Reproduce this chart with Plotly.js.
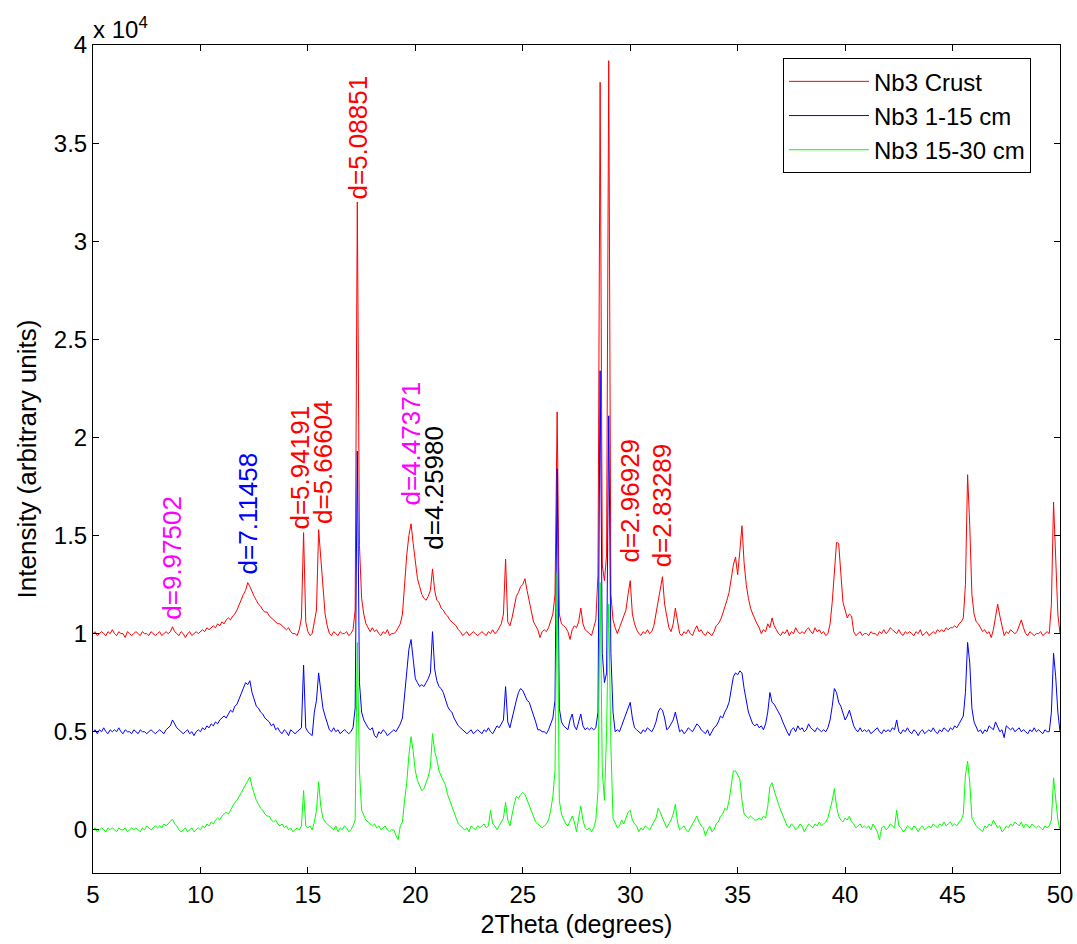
<!DOCTYPE html>
<html>
<head>
<meta charset="utf-8">
<script src="https://cdn.plot.ly/plotly-3.0.1.min.js"></script>
<style>html,body{margin:0;padding:0;background:#fff;}#chart{width:1077px;height:944px;}</style>
</head>
<body>
<div id="chart"></div>
<script>
// 2Theta scan: starts at 5 degrees, 0.1 degree steps; intensities in units of 10^4
const scanStart = 5;
const scanStep = 0.1;
const seriesNames = ['Nb3 Crust', 'Nb3 1-15 cm', 'Nb3 15-30 cm'];
const seriesColors = ['#ff0000', '#0000ff', '#00ff00'];

const crust = [
1.00,1.01,0.99,1.00,1.01,1.00,0.99,1.01,1.00,1.02,
1.00,0.99,1.01,1.00,1.00,0.98,1.01,1.00,0.99,1.00,
1.01,1.00,0.99,1.01,1.00,1.00,0.99,1.01,1.00,0.99,
1.00,1.01,0.99,1.00,1.01,1.00,1.01,1.035,1.01,1.00,
0.99,1.01,1.00,0.98,1.00,1.01,0.99,1.00,1.01,1.00,
1.01,1.02,1.01,1.03,1.02,1.03,1.04,1.03,1.05,1.04,
1.06,1.05,1.07,1.08,1.07,1.09,1.10,1.12,1.15,1.17,
1.20,1.22,1.26,1.24,1.21,1.19,1.17,1.15,1.14,1.12,
1.11,1.11,1.09,1.08,1.07,1.06,1.05,1.05,1.04,1.03,
1.02,1.03,1.01,1.00,1.00,0.99,1.02,1.08,1.515,1.06,
1.01,0.99,1.00,1.06,1.12,1.53,1.38,1.22,1.10,1.04,
1.00,0.99,1.01,1.00,0.99,1.01,1.00,1.00,1.01,0.99,
1.00,1.02,1.12,3.20,1.45,1.18,1.10,1.05,1.03,1.01,
1.03,1.01,1.02,1.00,0.99,1.01,1.00,1.02,0.99,1.00,
1.00,1.01,1.03,1.05,1.10,1.28,1.40,1.50,1.56,1.46,
1.36,1.28,1.24,1.20,1.18,1.17,1.19,1.22,1.33,1.22,
1.17,1.16,1.13,1.12,1.10,1.09,1.07,1.06,1.05,1.04,
1.02,1.01,0.99,1.00,1.01,0.99,1.00,1.01,1.00,0.99,
1.00,1.01,1.00,0.99,1.01,1.00,1.02,1.00,1.01,1.03,
1.05,1.10,1.38,1.06,1.04,1.08,1.13,1.19,1.21,1.24,
1.25,1.28,1.22,1.16,1.10,1.06,1.04,1.02,0.98,1.01,
1.02,1.01,1.03,1.06,1.10,1.20,2.13,1.10,1.05,1.04,
1.03,1.01,0.97,1.02,1.04,1.03,1.06,1.13,1.05,1.02,
1.01,1.00,0.99,1.03,1.07,1.30,3.81,1.35,1.27,1.40,
3.92,1.20,1.07,1.03,1.00,1.03,1.06,1.08,1.12,1.20,
1.27,1.10,1.05,1.02,1.00,0.99,1.01,1.00,1.02,1.00,
1.01,1.04,1.10,1.15,1.22,1.29,1.15,1.08,1.03,1.01,
1.05,1.13,1.06,1.00,0.99,1.01,1.00,1.02,1.00,0.99,
1.02,1.04,1.01,1.02,1.00,0.99,1.01,1.00,0.99,1.01,
1.04,1.05,1.07,1.10,1.13,1.17,1.21,1.28,1.35,1.39,
1.30,1.42,1.55,1.36,1.25,1.18,1.13,1.10,1.07,1.05,
1.03,1.00,1.02,1.01,1.05,1.03,1.08,1.04,1.02,1.00,
0.99,1.01,1.00,1.02,0.99,1.01,1.00,1.03,1.01,1.00,
1.01,1.00,1.02,1.03,1.01,1.00,1.03,1.01,1.02,1.00,
1.01,0.99,1.00,1.05,1.16,1.32,1.465,1.46,1.28,1.16,
1.12,1.08,1.10,1.09,1.01,0.99,1.00,1.01,0.99,1.00,
1.00,0.99,1.01,1.00,1.00,0.99,1.01,1.00,1.02,1.00,
1.01,1.03,1.02,1.01,1.00,1.02,1.00,0.99,1.01,1.00,
1.01,1.00,0.99,1.01,1.00,1.02,0.99,1.00,1.01,0.99,
1.00,1.01,1.00,1.02,1.01,1.02,1.01,1.03,1.02,1.03,
1.03,1.04,1.03,1.05,1.06,1.08,1.25,1.81,1.55,1.20,
1.10,1.06,1.05,1.03,1.01,1.02,1.00,1.01,0.98,1.02,
1.08,1.15,1.09,1.03,0.99,1.01,1.00,1.02,1.01,1.00,
1.01,1.04,1.07,1.03,1.00,0.99,1.01,1.00,0.99,1.00,
1.00,1.01,0.99,1.00,1.01,1.00,1.15,1.67,1.42,1.10,
1.00];

const depth1to15 = [
0.50,0.51,0.49,0.51,0.50,0.52,0.50,0.49,0.51,0.50,
0.51,0.50,0.52,0.50,0.49,0.51,0.50,0.50,0.49,0.51,
0.50,0.49,0.51,0.50,0.50,0.49,0.50,0.51,0.50,0.49,
0.50,0.51,0.50,0.49,0.51,0.52,0.53,0.56,0.54,0.52,
0.51,0.50,0.49,0.50,0.51,0.49,0.50,0.48,0.50,0.51,
0.50,0.52,0.51,0.53,0.52,0.54,0.53,0.55,0.54,0.56,
0.57,0.58,0.57,0.59,0.61,0.60,0.63,0.64,0.67,0.70,
0.72,0.75,0.74,0.76,0.70,0.66,0.63,0.62,0.60,0.59,
0.57,0.56,0.55,0.53,0.54,0.51,0.52,0.50,0.49,0.51,
0.50,0.48,0.51,0.50,0.49,0.50,0.51,0.52,0.84,0.52,
0.50,0.49,0.48,0.60,0.66,0.80,0.70,0.62,0.58,0.54,
0.51,0.50,0.52,0.50,0.51,0.49,0.50,0.51,0.50,0.49,
0.50,0.52,0.62,1.93,0.75,0.60,0.56,0.54,0.52,0.51,
0.52,0.48,0.47,0.50,0.49,0.51,0.50,0.48,0.49,0.50,
0.51,0.50,0.52,0.54,0.57,0.70,0.83,0.92,0.97,0.85,
0.77,0.75,0.73,0.74,0.73,0.75,0.77,0.80,1.01,0.82,
0.76,0.73,0.72,0.70,0.66,0.63,0.61,0.60,0.57,0.55,
0.53,0.52,0.51,0.50,0.49,0.50,0.51,0.49,0.50,0.51,
0.50,0.49,0.51,0.50,0.52,0.50,0.49,0.51,0.53,0.52,
0.54,0.56,0.73,0.55,0.52,0.57,0.62,0.66,0.70,0.72,
0.71,0.68,0.66,0.65,0.62,0.58,0.55,0.51,0.51,0.50,
0.50,0.49,0.51,0.54,0.57,0.66,1.84,0.62,0.55,0.53,
0.52,0.51,0.56,0.59,0.53,0.51,0.55,0.59,0.53,0.51,
0.52,0.51,0.52,0.51,0.52,0.60,2.34,0.90,0.75,0.80,
2.11,0.90,0.60,0.50,0.51,0.50,0.53,0.56,0.60,0.63,
0.65,0.57,0.52,0.51,0.50,0.49,0.51,0.50,0.52,0.51,
0.50,0.52,0.55,0.60,0.62,0.61,0.57,0.51,0.52,0.54,
0.56,0.60,0.55,0.50,0.51,0.49,0.50,0.52,0.51,0.50,
0.52,0.54,0.53,0.51,0.50,0.49,0.51,0.48,0.50,0.52,
0.53,0.55,0.58,0.57,0.60,0.62,0.65,0.72,0.78,0.80,
0.79,0.81,0.80,0.72,0.65,0.60,0.57,0.54,0.53,0.54,
0.52,0.53,0.51,0.54,0.60,0.70,0.65,0.64,0.62,0.60,
0.58,0.55,0.52,0.50,0.48,0.51,0.52,0.50,0.53,0.51,
0.52,0.50,0.51,0.54,0.52,0.51,0.50,0.52,0.51,0.50,
0.51,0.50,0.52,0.56,0.63,0.72,0.70,0.65,0.63,0.60,
0.56,0.58,0.61,0.57,0.53,0.51,0.50,0.52,0.50,0.51,
0.50,0.51,0.49,0.50,0.51,0.52,0.50,0.49,0.51,0.50,
0.51,0.50,0.52,0.51,0.56,0.50,0.49,0.51,0.50,0.52,
0.50,0.49,0.51,0.50,0.48,0.50,0.51,0.49,0.50,0.51,
0.50,0.52,0.50,0.49,0.51,0.50,0.52,0.51,0.50,0.52,
0.51,0.53,0.52,0.54,0.56,0.58,0.70,0.955,0.85,0.62,
0.55,0.52,0.50,0.51,0.49,0.51,0.50,0.53,0.52,0.51,
0.55,0.52,0.50,0.51,0.47,0.53,0.52,0.51,0.52,0.50,
0.51,0.52,0.50,0.51,0.50,0.49,0.51,0.50,0.52,0.50,
0.51,0.50,0.49,0.51,0.50,0.50,0.60,0.90,0.78,0.60,
0.50];

const depth15to30 = [
0.00,0.01,-0.01,0.00,0.01,0.00,-0.01,0.01,0.00,0.01,
0.00,-0.01,0.01,0.00,0.00,0.01,-0.01,0.00,0.01,0.00,
0.01,0.00,-0.01,0.01,0.00,0.02,0.01,0.00,0.01,0.02,
0.01,0.02,0.01,0.03,0.02,0.03,0.04,0.055,0.03,0.02,
0.00,-0.01,0.00,0.01,-0.01,0.00,0.01,-0.01,0.00,0.01,
0.00,0.02,0.01,0.03,0.02,0.04,0.03,0.05,0.06,0.05,
0.07,0.08,0.09,0.08,0.10,0.12,0.14,0.15,0.17,0.19,
0.21,0.23,0.25,0.27,0.22,0.18,0.15,0.13,0.11,0.10,
0.08,0.07,0.07,0.05,0.04,0.05,0.03,0.02,0.03,0.01,
0.02,0.00,0.01,-0.01,0.00,0.01,0.00,0.02,0.20,0.02,
0.01,0.02,0.00,0.04,0.10,0.245,0.12,0.06,0.04,0.03,
0.02,0.01,0.00,0.02,-0.01,0.01,0.00,0.02,0.01,-0.01,
0.00,0.02,0.05,0.955,0.30,0.10,0.07,0.05,0.04,0.03,
0.02,0.03,0.01,0.02,0.00,0.01,0.02,0.00,-0.01,0.00,
0.00,-0.03,-0.05,0.02,0.04,0.15,0.24,0.38,0.475,0.40,
0.30,0.25,0.22,0.20,0.21,0.24,0.27,0.32,0.49,0.40,
0.36,0.30,0.27,0.25,0.23,0.18,0.15,0.12,0.08,0.05,
0.03,0.02,0.01,0.00,0.01,-0.01,0.02,0.01,0.00,0.02,
0.01,0.02,0.03,0.01,0.02,0.10,0.03,0.02,0.00,0.02,
0.04,0.06,0.14,0.05,0.02,0.08,0.13,0.17,0.16,0.18,
0.19,0.18,0.15,0.13,0.09,0.06,0.04,0.03,0.02,0.01,
0.02,0.03,0.05,0.10,0.17,0.30,1.31,0.15,0.08,0.05,
0.03,0.02,0.05,0.07,0.04,-0.01,0.06,0.12,0.05,0.01,
0.00,0.01,-0.01,0.01,0.05,0.20,1.26,0.30,0.15,0.50,
1.15,0.43,0.06,0.03,0.01,0.02,0.05,0.03,0.06,0.09,
0.10,0.05,0.03,0.02,-0.01,0.01,0.00,0.02,0.01,0.00,
0.02,0.04,0.06,0.11,0.09,0.06,0.03,0.01,0.03,0.05,
0.08,0.13,0.04,0.00,0.01,0.02,0.00,-0.01,0.01,0.03,
0.05,0.07,0.04,0.02,0.01,-0.03,0.00,0.02,-0.01,0.00,
0.03,0.04,0.07,0.08,0.11,0.10,0.15,0.22,0.30,0.30,
0.28,0.26,0.15,0.08,0.07,0.06,0.07,0.06,0.05,0.05,
0.06,0.05,0.07,0.06,0.12,0.22,0.24,0.20,0.16,0.13,
0.10,0.07,0.04,0.02,0.01,0.03,0.02,0.00,0.01,0.03,
0.02,-0.01,0.01,0.03,0.02,0.01,0.03,0.02,0.04,0.02,
0.03,0.04,0.06,0.10,0.15,0.21,0.12,0.07,0.05,0.04,
0.06,0.05,0.07,0.04,0.03,0.01,0.02,0.03,0.01,0.02,
0.01,0.02,0.00,0.03,0.01,-0.01,-0.05,0.01,0.02,0.00,
0.01,0.03,0.02,0.01,0.10,0.02,0.01,-0.01,0.00,0.02,
0.01,0.00,0.02,0.01,-0.01,0.01,0.02,0.00,0.01,0.02,
0.01,0.03,0.02,0.01,0.03,0.02,0.04,0.02,0.03,0.04,
0.02,0.03,0.02,0.04,0.05,0.08,0.28,0.35,0.24,0.06,
0.04,0.02,0.01,0.00,-0.01,0.02,0.01,0.03,0.02,0.05,
0.03,0.01,0.02,-0.01,0.00,0.02,0.01,0.03,0.02,0.04,
0.03,0.02,0.04,0.01,0.03,0.02,0.01,0.03,0.02,0.01,
0.02,0.01,0.00,0.02,0.01,0.02,0.05,0.265,0.15,0.05,
0.00];

// peak labels (d-spacings)
const peakLabels = ['d=9.97502','d=7.11458','d=5.94191','d=5.66604','d=5.08851','d=4.47371','d=4.25980','d=2.96929','d=2.83289'];
const peakLabelX = [8.67, 12.2, 14.63, 15.68, 17.31, 19.8, 20.87, 29.99, 31.52];
const peakLabelY = [1.06, 1.29, 1.52, 1.546, 3.2, 1.643, 1.418, 1.352, 1.327];
const peakLabelColors = ['#ff00ff','#0000ff','#ff0000','#ff0000','#ff0000','#ff00ff','#000000','#ff0000','#ff0000'];

const yTicks = [0, 0.5, 1, 1.5, 2, 2.5, 3, 3.5, 4];
const xTicks = [5, 10, 15, 20, 25, 30, 35, 40, 45, 50];

const FONT = 'Liberation Sans, Arial, Helvetica, sans-serif';
const allSeries = [crust, depth1to15, depth15to30];

const traces = allSeries.map((ys, i) => ({
  type: 'scatter', mode: 'lines',
  y: ys, x0: scanStart, dx: scanStep,
  name: seriesNames[i],
  line: {color: seriesColors[i], width: 1},
  hoverinfo: 'x+y'
}));

const annotations = peakLabels.map((t, i) => ({
  x: peakLabelX[i], y: peakLabelY[i], xref: 'x', yref: 'y',
  text: t, textangle: -90, showarrow: false,
  xanchor: 'center', yanchor: 'bottom',
  font: {family: FONT, size: 26, color: peakLabelColors[i]}
}));
annotations.push({
  xref: 'paper', yref: 'paper', x: 0, y: 1, xanchor: 'left', yanchor: 'bottom',
  yshift: 0, xshift: -2,
  text: 'x 10<sup>4</sup>', showarrow: false,
  font: {family: FONT, size: 24, color: '#000'}
});

const axisCommon = {
  showgrid: false, zeroline: false, showline: true, linecolor: '#000', linewidth: 1,
  ticks: 'inside', ticklen: 6, tickcolor: '#000', mirror: 'ticks',
  tickfont: {family: FONT, size: 24, color: '#000'}
};

const layout = {
  width: 1077, height: 944,
  margin: {l: 93, r: 17, t: 45, b: 71, pad: 0},
  paper_bgcolor: '#fff', plot_bgcolor: '#fff',
  font: {family: FONT, color: '#000'},
  showlegend: true,
  legend: {
    x: 0.7135, y: 0.984, xanchor: 'left', yanchor: 'top',
    bgcolor: '#fff', bordercolor: '#000', borderwidth: 1,
    font: {family: FONT, size: 24, color: '#000'},
    itemwidth: 80, tracegroupgap: 0
  },
  xaxis: Object.assign({}, axisCommon, {
    range: [5, 50], tickvals: xTicks,
    title: {text: '2Theta (degrees)', font: {family: FONT, size: 25, color: '#000'}, standoff: 8}
  }),
  yaxis: Object.assign({}, axisCommon, {
    range: [-0.22, 4.0], tickvals: yTicks,
    title: {text: 'Intensity (arbitrary units)', font: {family: FONT, size: 26, color: '#000'}, standoff: 9}
  }),
  annotations: annotations
};

Plotly.newPlot('chart', traces, layout, {displayModeBar: false, staticPlot: true});
</script>
</body>
</html>
